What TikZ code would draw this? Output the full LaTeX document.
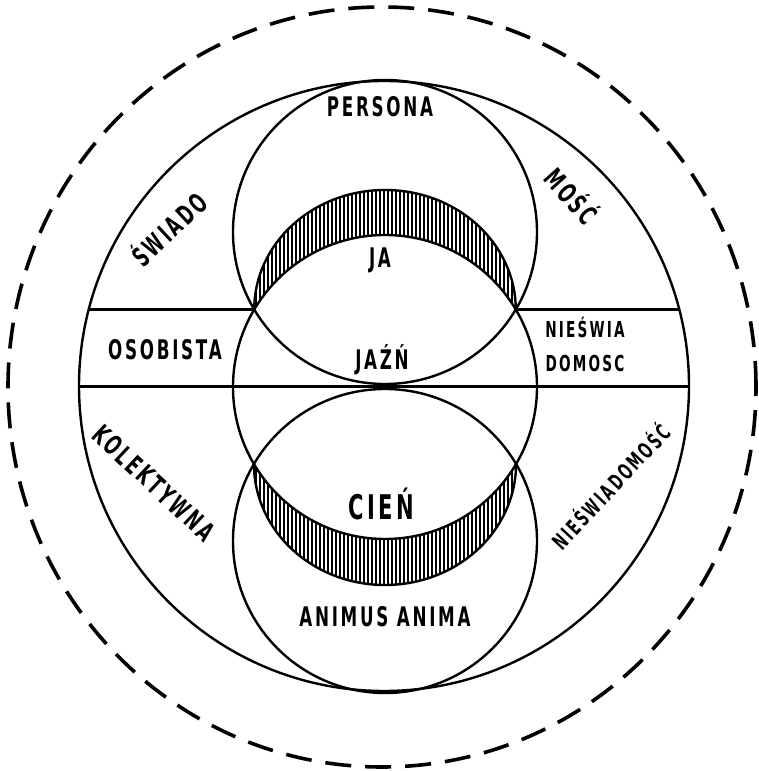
\documentclass[tikz,border=0pt]{standalone}
\usepackage{fontspec}
\newfontfamily\handfont{DejaVu Sans}[FakeStretch=0.62,LetterSpace=10]
\usepackage{tikz}
\usetikzlibrary{positioning}

\begin{document}
\begin{tikzpicture}[
    x=1pt, y=1pt,
    ring/.style={line width=2.4pt},
    band/.style={line width=3pt},
    outer/.style={line width=3.6pt, dash pattern=on 26pt off 14pt},
    hatch/.style={line width=1.5pt},
    lbl/.style={font=\handfont\bfseries\fontsize{27}{30}\selectfont, inner sep=0pt},
    small_lbl/.style={font=\handfont\bfseries\fontsize{22}{26}\selectfont, inner sep=0pt},
    big_lbl/.style={font=\handfont\bfseries\fontsize{34}{40}\selectfont, inner sep=0pt}
]
\useasboundingbox (0,0) rectangle (759,771);

% Outer dashed boundary
\draw[outer] (382,384) ellipse [x radius=374, y radius=380];

% Big circle and the three inner circles
\draw[ring] (384,385) circle [radius=305];
\draw[ring] (385,539) circle [radius=152];
\draw[ring] (385,384) circle [radius=152];
\draw[ring] (385,230) circle [radius=152];

% Band lines
\coordinate (bandL) at (79,384);
\coordinate (bandR) at (689,384);
\coordinate (topL) at (88.75,461.5);
\coordinate (topR) at (679.25,461.5);
\coordinate (cutL) at (254.24,461.5);
\coordinate (cutR) at (515.76,461.5);
\draw[band] (bandL) -- (bandR);
\draw[band] (topL) -- (cutL);
\draw[band] (cutR) -- (topR);

% Hatched crescents
\begin{scope}
  \clip (cutL) arc[start angle=180, end angle=0, x radius=130.76, y radius=119.5]
               arc[start angle=30.65, end angle=149.35, radius=152] -- cycle;
  \foreach \x in {252,256,...,520} \draw[hatch] (\x,440) -- (\x,600);
\end{scope}
\draw[ring] (cutL) arc[start angle=180, end angle=0, x radius=130.76, y radius=119.5];

\coordinate (lowL) at (253.95,307);
\begin{scope}
  \clip (lowL) arc[start angle=180, end angle=360, x radius=131.05, y radius=121]
               arc[start angle=-30.44, end angle=-149.56, radius=152] -- cycle;
  \foreach \x in {252,256,...,520} \draw[hatch] (\x,170) -- (\x,330);
\end{scope}
\draw[ring] (lowL) arc[start angle=180, end angle=360, x radius=131.05, y radius=121];

% Labels
\node[lbl, anchor=base] (persona) at (380,654) {PERSONA};
\node[lbl, rotate=43] (swiado) at (168,228+315) {ŚWIADO};
\node[lbl, rotate=-48] (mosc) at (573,576) {MOŚĆ};
\node[lbl, anchor=base] (osobista) at (165,411) {OSOBISTA};
\node[small_lbl, anchor=base] (nieswia) at (585,433) {NIEŚWIA};
\node[small_lbl, below=16pt of nieswia] (domosc) {DOMOSC};
\node[lbl, anchor=base] (ja) at (380,503) {JA};
\node[lbl, anchor=base] (jazn) at (382,401) {JAŹŃ};
\node[big_lbl, anchor=base] (cien) at (381,251) {CIEŃ};
\node[lbl, anchor=base] (animus) at (385,144) {ANIMUS ANIMA};
\node[lbl, rotate=-43] (kolektywna) at (154,288) {KOLEKTYWNA};
\node[small_lbl, rotate=47] (nieswiadomosc) at (610,285) {NIEŚWIADOMOŚĆ};

\end{tikzpicture}
\end{document}
